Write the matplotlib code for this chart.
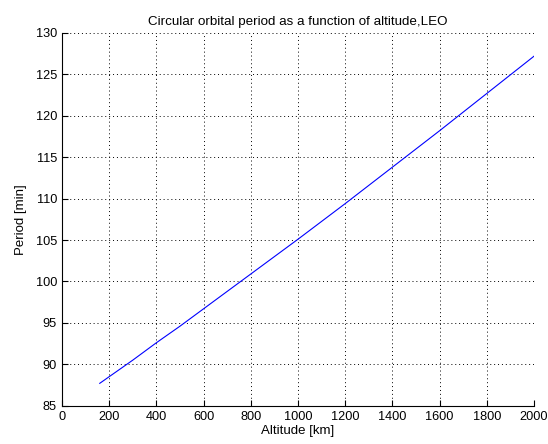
import matplotlib
matplotlib.use('Agg')
import matplotlib.pyplot as plt

# values
altitude_km = [160, 300, 400, 500, 600, 700, 800, 900, 1000, 1200, 1400, 1600, 1800, 2000]
period_min = [87.7, 90.5, 92.6, 94.6, 96.7, 98.8, 100.9, 103.0, 105.1,
              109.4, 113.8, 118.2, 122.7, 127.2]

x_ticks = list(range(0, 2001, 200))
y_ticks = list(range(85, 131, 5))

plt.rcParams['font.family'] = ['Liberation Sans', 'DejaVu Sans']

fig = plt.figure(figsize=(5.48, 4.44), dpi=100)
ax = fig.add_axes([0.1131, 0.0863, 0.8614, 0.8394])

ax.plot(altitude_km, period_min, color='blue', lw=0.8)

ax.set_xlim(0, 2000)
ax.set_ylim(85, 130)
ax.set_xticks(x_ticks)
ax.set_yticks(y_ticks)
ax.tick_params(direction='in', length=4, labelsize=9.2, width=0.8)
ax.grid(True, linestyle=(0, (1, 3)), color='black', lw=0.7)

for s in ['top', 'right']:
    ax.spines[s].set_visible(False)
for s in ['left', 'bottom']:
    ax.spines[s].set_linewidth(0.8)

ax.set_title('Circular orbital period as a function of altitude,LEO', fontsize=9.6, pad=6)
ax.set_xlabel('Altitude [km]', fontsize=9.5, labelpad=2)
ax.set_ylabel('Period [min]', fontsize=9.5, labelpad=6)

fig.savefig('out.png', dpi=100)
